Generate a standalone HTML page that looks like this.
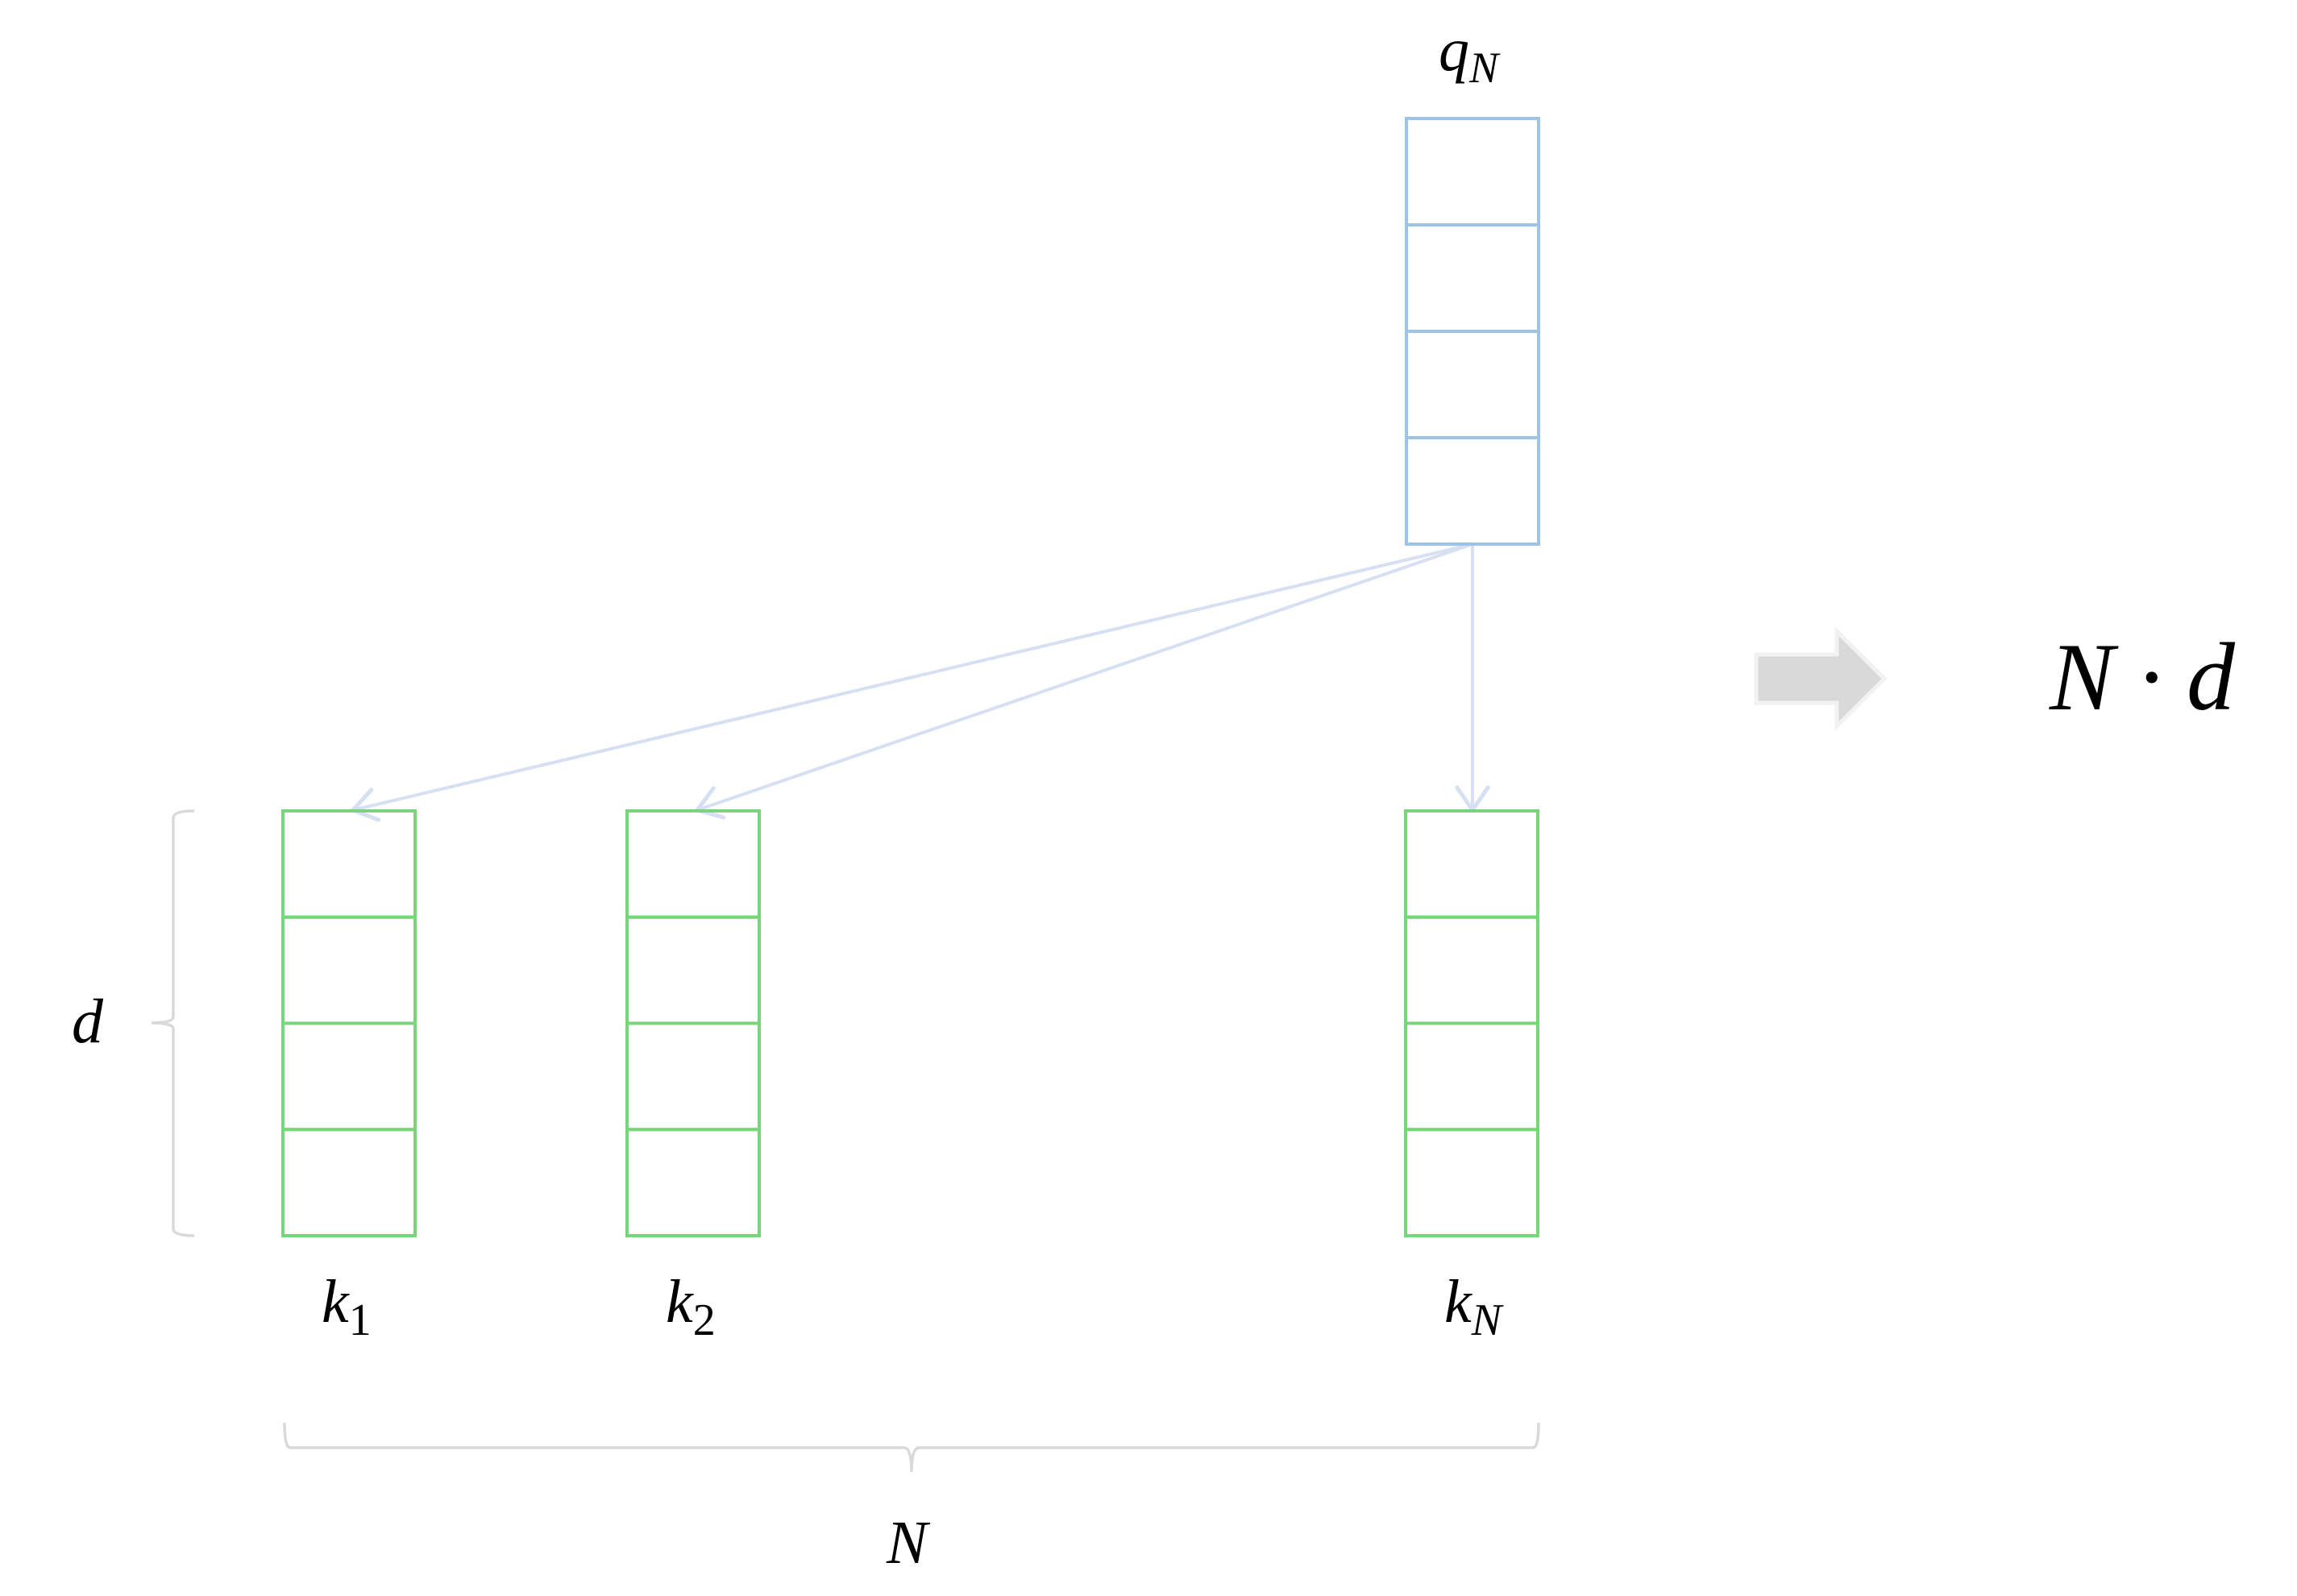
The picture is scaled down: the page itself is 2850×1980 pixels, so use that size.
<!DOCTYPE html>
<html><head><meta charset="utf-8"><style>
html,body{margin:0;padding:0;background:#fff;}
svg{display:block;}
text{font-family:"Liberation Serif",serif;font-style:italic;fill:#000;}
</style></head><body>
<svg id="c" width="2850" height="1980" viewBox="0 0 2850 1980" xmlns="http://www.w3.org/2000/svg">
<g id="arrows"></g>
<g id="boxes"></g>
<path d="M241,1006 Q216,1006 215,1014 L215,1262 Q214,1269 188,1269 Q214,1269 215,1276 L215,1525 Q216,1533 241,1533" fill="none" stroke="#d9d9d9" stroke-width="3.5"/>
<path d="M353,1765 Q353,1796 360,1796 L1122,1796 Q1131,1797 1131,1826 Q1131,1797 1140,1796 L1902,1796 Q1909,1796 1909,1765" fill="none" stroke="#d9d9d9" stroke-width="3.5"/>
<text x="89" y="1293" font-size="78">d</text>
<text x="1100" y="1939" font-size="76">N</text>
<text x="1785" y="87" font-size="76">q<tspan font-size="54" dy="15">N</tspan></text>
<polygon points="2179,812 2279,812 2279,783 2338,842 2279,901 2279,872 2179,872" fill="#d9d9d9" stroke="#f2f2f2" stroke-width="5"/>
<text x="2543" y="880" font-size="120">N · d</text>
</svg>
<script>
const keyLabels = ["1", "2", "N"];
const keyLefts = [351, 778, 1744];
const cellsPerVector = 4;
const NS = "http://www.w3.org/2000/svg";
const boxes = document.getElementById('boxes');
const arrows = document.getElementById('arrows');
function vec(x, top, h, color, name) {
  const g = document.createElementNS(NS, 'g');
  
  
  const w = 164, ch = h / cellsPerVector;
  for (let i = 0; i < cellsPerVector; i++) {
    const r = document.createElementNS(NS, 'rect');
    
    
    r.setAttribute('x', x); r.setAttribute('y', top + i * ch);
    r.setAttribute('width', w); r.setAttribute('height', ch);
    r.setAttribute('fill', 'none'); r.setAttribute('stroke', color); r.setAttribute('stroke-width', '4');
    g.appendChild(r);
  }
  boxes.appendChild(g);
}
vec(1745, 147, 528, '#9dc3e6', 'query-vector');
const ox = 1827, oy = 675;
keyLefts.forEach((x, i) => {
  vec(x, 1006, 527, '#77d677', 'key-vector');
  const t = document.createElementNS(NS, 'text');
  
  
  t.setAttribute('x', x + 48); t.setAttribute('y', 1640); t.setAttribute('font-size', '76');
  t.innerHTML = 'k<tspan font-size="56" dy="16" font-style="' + (keyLabels[i] === 'N' ? 'italic' : 'normal') + '">' + keyLabels[i] + '</tspan>';
  document.getElementById('c').appendChild(t);
  const tx = i === 2 ? x + 83 : x + 87, ty = 1005;
  const l = document.createElementNS(NS, 'line');
  
  
  l.setAttribute('x1', ox); l.setAttribute('y1', oy); l.setAttribute('x2', tx); l.setAttribute('y2', ty);
  l.setAttribute('stroke', '#d6e0f2'); l.setAttribute('stroke-width', '4');
  arrows.appendChild(l);
  const a = Math.atan2(ty - oy, tx - ox), L = 34, s = 0.6;
  const p = document.createElementNS(NS, 'polyline');
  
  
  p.setAttribute('points', (tx - L * Math.cos(a - s)) + ',' + (ty - L * Math.sin(a - s)) + ' ' + tx + ',' + ty + ' ' + (tx - L * Math.cos(a + s)) + ',' + (ty - L * Math.sin(a + s)));
  p.setAttribute('fill', 'none'); p.setAttribute('stroke', '#d6e0f2'); p.setAttribute('stroke-width', '5'); p.setAttribute('stroke-linecap', 'round');
  arrows.appendChild(p);
});
</script>
</body></html>
